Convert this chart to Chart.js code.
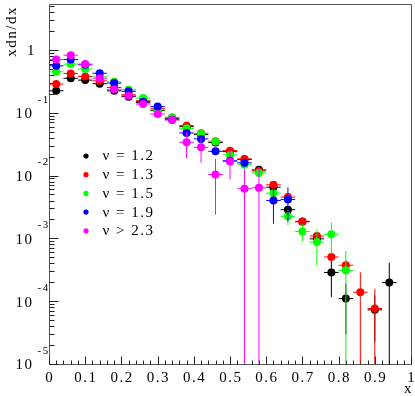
<!DOCTYPE html>
<html><head><meta charset="utf-8">
<script src="https://cdn.jsdelivr.net/npm/chart.js@4/dist/chart.umd.min.js"></script>
<style>html,body{margin:0;padding:0;background:#fff;overflow:hidden}canvas{display:block}</style>
</head><body>
<canvas id="c" width="415" height="396"></canvas>
<script>
// ---- data ----
const binCenters = [0.02,0.06,0.10,0.14,0.18,0.22,0.26,0.30,0.34,0.38,0.42,0.46,0.50,0.54,0.58,0.62,0.66,0.70,0.74,0.78,0.82,0.86,0.90,0.94];
const binHalfWidth = 0.02;
const seriesLabels = ['\u03bd = 1.2','\u03bd = 1.3','\u03bd = 1.5','\u03bd = 1.9','\u03bd > 2.3'];
const seriesColors = ['#000000','#ff0000','#00ff00','#0000ff','#ff00ff'];

const nu12 = [0.223,0.353,0.330,0.289,0.223,0.180,0.144,0.108,0.0803,0.060,0.0448,0.0334,0.0240,0.0180,0.0123,0.00652,0.00286,0.00186,0.000982,0.000286,0.000110,null,0.0000728,0.000198];
const nu12Err = [0.01,0.012,0.012,0.01,0.009,0.008,0.006,0.005,0.004,0.003,0.0025,0.002,0.0015,0.0012,0.001,0.0006,0.0003,0.0002,0.00015,0.00017,0.00008,null,0.00005,0.00021];

const nu13 = [0.285,0.421,0.377,0.322,0.252,0.193,0.155,0.116,0.0842,0.0622,0.0469,0.0350,0.0249,0.0184,0.0118,0.00711,0.00453,0.00183,0.00109,0.000505,0.000373,0.000139,0.0000765,null];
const nu13Err = [0.012,0.015,0.013,0.011,0.009,0.008,0.006,0.005,0.004,0.003,0.0025,0.002,0.0015,0.0012,0.0009,0.0006,0.0004,0.0002,0.00012,0.00008,0.00008,0.00015,0.00008,null];

const nu15 = [0.448,0.593,0.494,0.373,0.310,0.232,0.171,0.111,0.0842,0.0563,0.0464,0.0347,0.0213,0.0148,0.0110,0.00524,0.00224,0.00129,0.000873,0.00116,0.000310,null,null,null];
const nu15Err = [0.015,0.02,0.017,0.013,0.011,0.009,0.007,0.005,0.004,0.003,0.0025,0.002,0.0015,0.0012,0.0012,0.0006,0.0006,0.0004,0.0005,0.0006,0.00032,null,null,null];

const nu19 = [0.557,0.702,0.578,0.424,0.296,0.219,0.150,0.125,0.0774,0.0476,0.0383,0.0243,0.0172,0.0159,null,0.00401,0.00416,null,null,null,null,null,null,null];
const nu19Err = [0.02,0.025,0.02,0.015,0.012,0.01,0.008,0.006,0.005,0.004,0.003,0.0025,0.002,0.002,null,0.0023,0.0023,null,null,null,null,null,null,null];

const nu23 = [0.702,0.824,0.593,0.353,0.236,0.186,0.137,0.0953,0.0766,0.0338,0.0281,0.01038,0.01668,0.00615,0.00638,null,null,null,null,null,null,null,null,null];
const nu23Err = [0.03,0.035,0.025,0.015,0.012,0.01,0.008,0.007,0.006,0.015,0.012,0.008,0.008,0.0065,0.007,null,null,null,null,null,null,null,null,null];

const xTickLabels = ['0','0.1','0.2','0.3','0.4','0.5','0.6','0.7','0.8','0.9','1'];
const yDecades = [-5,-4,-3,-2,-1,0];
const xTitle = 'x';
const yTitle = 'xdn/dx';

const X_MIN = 0, X_MAX = 1, Y_MIN = 1e-5, Y_MAX = 5.37;

// ---- build datasets ----
const allY = [nu12, nu13, nu15, nu19, nu23];
const allErr = [nu12Err, nu13Err, nu15Err, nu19Err, nu23Err];
const datasets = allY.map((ys, i) => ({
  label: seriesLabels[i],
  data: binCenters.map((x, j) => ys[j] == null ? null : ({x: x, y: ys[j], e: allErr[i][j]})).filter(p => p),
  backgroundColor: seriesColors[i],
  borderColor: seriesColors[i],
  borderWidth: 0,
  pointRadius: 4,
  pointHoverRadius: 4,
  pointStyle: 'circle',
  showLine: false,
  order: 5 - i
}));

const FONT = '"Liberation Serif", "Times New Roman", serif';

const errorBars = {
  id: 'errorBars',
  beforeDatasetDraw(chart, args) {
    const ctx = chart.ctx, xs = chart.scales.x, ys = chart.scales.y, a = chart.chartArea;
    const ds = chart.data.datasets[args.index];
    ctx.save();
    ctx.beginPath(); ctx.rect(a.left, a.top, a.right - a.left, a.bottom - a.top); ctx.clip();
    ctx.strokeStyle = ds.borderColor; ctx.lineWidth = 1;
    ds.data.forEach(p => {
      const px = xs.getPixelForValue(p.x), py = ys.getPixelForValue(p.y);
      const x0 = xs.getPixelForValue(p.x - binHalfWidth), x1 = xs.getPixelForValue(p.x + binHalfWidth);
      ctx.beginPath(); ctx.moveTo(x0, py); ctx.lineTo(x1, py); ctx.stroke();
      if (p.e) {
        const hi = ys.getPixelForValue(p.y + p.e);
        const lo = (p.y - p.e) > 0 ? ys.getPixelForValue(p.y - p.e) : a.bottom + 5;
        ctx.beginPath(); ctx.moveTo(px, hi); ctx.lineTo(px, lo); ctx.stroke();
      }
    });
    ctx.restore();
  }
};

const axesPlugin = {
  id: 'axesPlugin',
  beforeDatasetsDraw(chart) {
    const ctx = chart.ctx, xs = chart.scales.x, ys = chart.scales.y, a = chart.chartArea;
    ctx.save();
    ctx.strokeStyle = '#555'; ctx.lineWidth = 1;
    const L = Math.round(a.left) + 0.5, R = Math.round(a.right) + 0.5, T = Math.round(a.top) + 0.5, B = Math.round(a.bottom) + 0.5;
    ctx.beginPath(); ctx.rect(L, T, R - L, B - T); ctx.stroke();
    // x ticks
    ctx.strokeStyle = '#222';
    for (let k = 0; k <= 50; k++) {
      const v = k * 0.02;
      const px = Math.round(xs.getPixelForValue(v)) + 0.5;
      const len = (k % 5 === 0) ? 8 : 4;
      ctx.beginPath(); ctx.moveTo(px, B); ctx.lineTo(px, B - len); ctx.stroke();
    }
    // y ticks
    for (let e = -5; e <= 0; e++) {
      for (let m = 1; m <= 9; m++) {
        const v = m * Math.pow(10, e);
        if (v < Y_MIN || v > Y_MAX) continue;
        const py = Math.round(ys.getPixelForValue(v)) + 0.5;
        const len = m === 1 ? 9 : 5;
        ctx.beginPath(); ctx.moveTo(L, py); ctx.lineTo(L + len, py); ctx.stroke();
      }
    }
    ctx.restore();
  },
  afterDraw(chart) {
    const ctx = chart.ctx, xs = chart.scales.x, ys = chart.scales.y, a = chart.chartArea;
    ctx.save();
    ctx.fillStyle = '#000';
    if ('letterSpacing' in ctx) ctx.letterSpacing = '1.5px';
    // x tick labels
    ctx.font = '15px ' + FONT;
    ctx.textAlign = 'center'; ctx.textBaseline = 'middle';
    xTickLabels.forEach((t, i) => {
      ctx.fillText(t, xs.getPixelForValue(i / 10) + 0.75, 378);
    });
    // y tick labels
    yDecades.forEach(e => {
      const py = ys.getPixelForValue(Math.pow(10, e));
      if (e === 0) {
        ctx.font = '15px ' + FONT; ctx.textAlign = 'right'; ctx.textBaseline = 'middle';
        ctx.fillText('1', 36, py + 1);
      } else {
        ctx.font = '15px ' + FONT; ctx.textAlign = 'right'; ctx.textBaseline = 'middle';
        ctx.fillText('10', 33.5, py + 1.5);
        ctx.font = '11px ' + FONT; ctx.textAlign = 'left';
        ctx.fillText(String(e), 37.5, py - 13);
      }
    });
    // axis titles
    ctx.font = '15px ' + FONT;
    ctx.textAlign = 'right'; ctx.textBaseline = 'middle';
    ctx.fillText(xTitle, 413, 389);
    ctx.save();
    ctx.translate(12.5, 6);
    ctx.rotate(-Math.PI / 2);
    ctx.textAlign = 'right'; ctx.textBaseline = 'middle';
    ctx.fillText(yTitle, 0, 0);
    ctx.restore();
    // legend
    ctx.font = '15px ' + FONT;
    ctx.textAlign = 'left'; ctx.textBaseline = 'middle';
    seriesLabels.forEach((lab, i) => {
      const cy = 156 + i * 18.7;
      ctx.fillStyle = seriesColors[i];
      ctx.beginPath(); ctx.arc(86, cy, 2.6, 0, Math.PI * 2); ctx.fill();
      ctx.fillStyle = '#000';
      ctx.fillText(lab, 102.5, cy + 0.5);
    });
    ctx.restore();
  }
};

new Chart(document.getElementById('c'), {
  type: 'scatter',
  data: { datasets },
  options: {
    responsive: false,
    animation: false,
    devicePixelRatio: 1,
    layout: { padding: { left: 49, top: 3, right: 4, bottom: 32 } },
    plugins: { legend: { display: false }, tooltip: { enabled: false } },
    scales: {
      x: { type: 'linear', min: X_MIN, max: X_MAX, display: false },
      y: { type: 'logarithmic', min: Y_MIN, max: Y_MAX, display: false }
    }
  },
  plugins: [errorBars, axesPlugin]
});
</script>
</body></html>
